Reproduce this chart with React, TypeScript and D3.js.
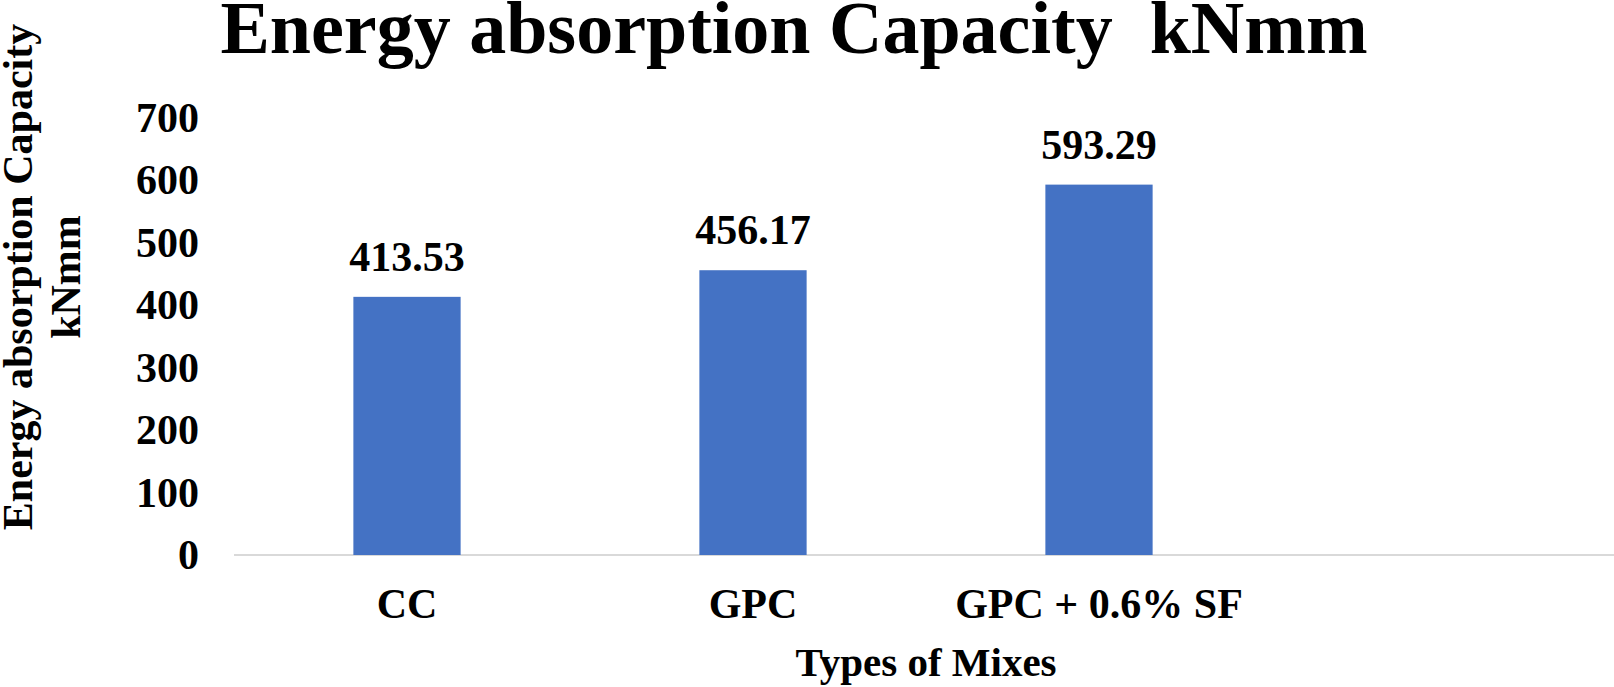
import React, { useEffect, useRef } from 'react';
import * as d3 from 'd3';

const categories = ['CC', 'GPC', 'GPC + 0.6% SF'];
// Excel left an empty fourth slot on the category axis
const slots = [...categories, ''];
const values = [413.53, 456.17, 593.29];
const yTicks = [0, 100, 200, 300, 400, 500, 600, 700];

const W = 1614;
const H = 687;
const FONT = '"Liberation Serif", "Times New Roman", serif';

const App: React.FC = () => {
  const svgRef = useRef<SVGSVGElement>(null);

  useEffect(() => {
    document.body.style.margin = '0';
    if (!svgRef.current) return;
    const svg = d3.select(svgRef.current);
    svg.selectAll('*').remove();

    const plot = { left: 234, right: 1618, top: 118, bottom: 555 };

    const x = d3.scaleBand()
      .domain(slots)
      .range([plot.left, plot.right])
      .paddingInner(0.69)
      .paddingOuter(0.345);

    const y = d3.scaleLinear()
      .domain([0, 700])
      .range([plot.bottom, plot.top]);

    const addText = (
      tx: number, ty: number, txt: string, size: number, anchor = 'middle', rotate = 0
    ) => svg.append('text')
      .attr('transform', `translate(${tx},${ty}) rotate(${rotate})`)
      .attr('text-anchor', anchor)
      .attr('font-family', FONT)
      .attr('font-weight', 'bold')
      .attr('font-size', size)
      .attr('fill', '#000')
      .style('white-space', 'pre')
      .text(txt);

    // title
    addText(794, 53, 'Energy absorption Capacity  kNmm', 74);

    // category axis line
    svg.append('line')
      .attr('x1', plot.left).attr('x2', W)
      .attr('y1', y(0)).attr('y2', y(0))
      .attr('stroke', '#d9d9d9').attr('stroke-width', 2);

    // y tick labels (no gridlines in the original)
    yTicks.forEach(t => addText(199, y(t) + 14, String(t), 42, 'end'));

    // bars
    svg.selectAll('rect.bar')
      .data(values)
      .join('rect')
      .attr('class', 'bar')
      .attr('x', (_, i) => x(categories[i]) || 0)
      .attr('y', d => y(d))
      .attr('width', x.bandwidth())
      .attr('height', d => y(0) - y(d))
      .attr('fill', '#4472c4');

    // data labels
    values.forEach((v, i) => {
      addText((x(categories[i]) || 0) + x.bandwidth() / 2, y(v) - 26, v.toFixed(2), 42);
    });

    // category labels
    categories.forEach(c => {
      addText((x(c) || 0) + x.bandwidth() / 2, 618, c, 42);
    });

    // axis titles
    addText((plot.left + plot.right) / 2, 676, 'Types of Mixes', 41);
    addText(32, 277, 'Energy absorption Capacity', 42, 'middle', -90);
    addText(80, 277, 'kNmm', 42, 'middle', -90);
  }, []);

  return (
    <svg
      ref={svgRef}
      width={W}
      height={H}
      style={{ display: 'block', position: 'absolute', left: 0, top: 0, background: '#fff' }}
    />
  );
};

export default App;
